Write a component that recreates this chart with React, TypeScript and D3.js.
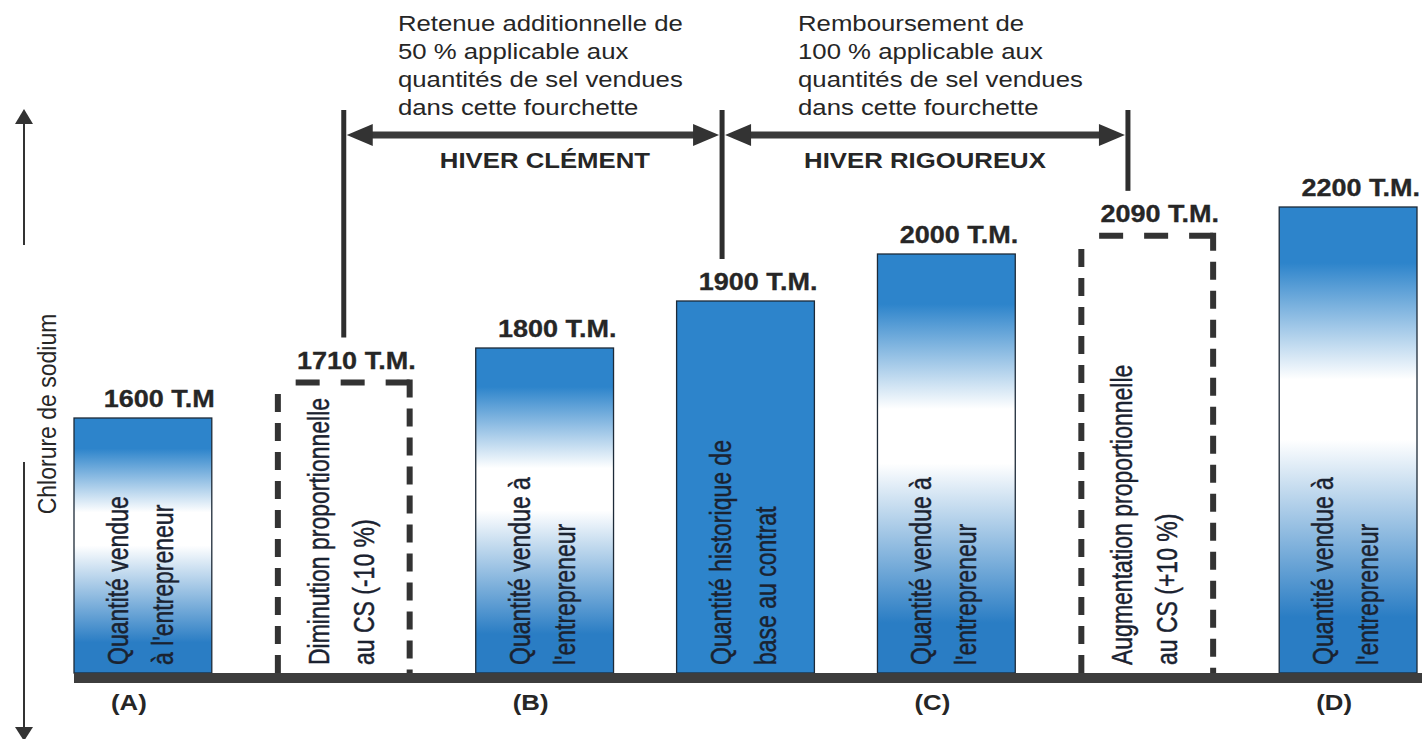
import { useEffect, useRef } from 'react';
import * as d3 from 'd3';

// one entry per column, left to right
const barKeys = ['A', 'minus', 'B', 'base', 'C', 'plus', 'D'];
const barValues = [1600, 1710, 1800, 1900, 2000, 2090, 2200];
const valueLabels = ['1600 T.M', '1710 T.M.', '1800 T.M.', '1900 T.M.', '2000 T.M.', '2090 T.M.', '2200 T.M.'];
const barKinds = ['sold', 'adjust', 'sold', 'base', 'sold', 'adjust', 'sold'];
const letterLabels = ['(A)', '', '(B)', '', '(C)', '', '(D)'];
const barCaptions = [
  ['Quantité vendue', "à l'entrepreneur"],
  ['Diminution proportionnelle', 'au CS (-10 %)'],
  ['Quantité vendue à', "l'entrepreneur"],
  ['Quantité historique de', 'base au contrat'],
  ['Quantité vendue à', "l'entrepreneur"],
  ['Augmentation proportionnelle', 'au CS (+10 %)'],
  ['Quantité vendue à', "l'entrepreneur"],
];

// the two winter ranges drawn above the columns
const rangeFrom = ['minus', 'base'];
const rangeTo = ['base', 'plus'];
const rangeTitles = ['HIVER CLÉMENT', 'HIVER RIGOUREUX'];
const rangeNotes = [
  ['Retenue additionnelle de', '50 % applicable aux', 'quantités de sel vendues', 'dans cette fourchette'],
  ['Remboursement de', '100 % applicable aux', 'quantités de sel vendues', 'dans cette fourchette'],
];

const axisTitle = 'Chlorure de sodium';

// the figure is schematic, not to scale: anchor levels, linear in between
const levelTicks = [1600, 1800, 2000, 2200];

const FONT = '"Liberation Sans", Arial, Helvetica, sans-serif';
const SX = 1.12; // the scan is a little wider than tall
const BLUE = '#2d84cb';
const INK = '#262626';

const stretch = (x: number, y: number, rot = 0, sx = SX) =>
  `translate(${x},${y}) scale(${sx},1)` + (rot ? ` rotate(${rot})` : '');

export default function App() {
  const ref = useRef<HTMLDivElement>(null);
  useEffect(() => {
    const width = 1422;
    const height = 739;
    const baseY = 673;

    const x = d3.scaleBand<string>()
      .domain(barKeys)
      .range([74, 1417])
      .paddingInner(0.314)
      .paddingOuter(0);
    const bw = x.bandwidth();

    const y = d3.scaleLinear()
      .domain(levelTicks)
      .range([418, 348, 254, 207]);

    const svg = d3.create('svg')
      .attr('width', width)
      .attr('height', height)
      .attr('viewBox', [0, 0, width, height])
      .style('display', 'block')
      .style('background', '#fff')
      .style('font-family', FONT);

    const defs = svg.append('defs');
    const grad = defs.append('linearGradient')
      .attr('id', 'fade')
      .attr('x1', 0).attr('y1', 0).attr('x2', 0).attr('y2', 1);
    [[0, BLUE], [0.12, BLUE], [0.37, '#ffffff'], [0.5, '#ffffff'], [0.88, '#2a7dc4'], [1, '#2a7dc4']]
      .forEach(([o, c]) => grad.append('stop').attr('offset', o as number).attr('stop-color', c as string));

    const data = barKeys.map((k, i) => ({
      key: k,
      value: barValues[i],
      label: valueLabels[i],
      kind: barKinds[i],
      letter: letterLabels[i],
      caption: barCaptions[i],
    }));

    // filled columns
    svg.append('g')
      .selectAll('rect')
      .data(data.filter((d) => d.kind !== 'adjust'))
      .join('rect')
      .attr('x', (d) => x(d.key)!)
      .attr('y', (d) => y(d.value))
      .attr('width', bw)
      .attr('height', (d) => baseY - y(d.value))
      .attr('fill', (d) => (d.kind === 'base' ? BLUE : 'url(#fade)'))
      .attr('stroke', '#1d2a38')
      .attr('stroke-width', 1.3);

    // dashed columns (proportional adjustment)
    const dashed = svg.append('g')
      .attr('fill', 'none')
      .attr('stroke', '#333')
      .attr('stroke-width', 6);
    data.filter((d) => d.kind === 'adjust').forEach((d) => {
      const x0 = x(d.key)! + 3;
      const x1 = x(d.key)! + bw - 3;
      const t = y(d.value) + 3;
      dashed.append('path')
        .attr('d', `M${x1},${t}H${x0}`)
        .attr('stroke-dasharray', '24 21');
      dashed.append('path')
        .attr('d', `M${x1},${t - 3}V${baseY}`)
        .attr('stroke-dasharray', '18 11');
      dashed.append('path')
        .attr('d', `M${x0},${baseY}V${t + 7}`)
        .attr('stroke-dasharray', '18 11');
    });

    // value labels above columns
    svg.append('g')
      .attr('font-weight', 'bold')
      .attr('font-size', 23.5)
      .attr('fill', INK)
      .attr('stroke', INK)
      .attr('stroke-width', 0.3)
      .selectAll('text')
      .data(data)
      .join('text')
      .attr('transform', (d) => stretch(x(d.key)! + bw + 3, y(d.value) - 11, 0, 1.15))
      .attr('text-anchor', 'end')
      .text((d) => d.label);

    // rotated captions inside columns
    const cap = svg.append('g')
      .attr('font-size', 23)
      .attr('fill', '#1a2230')
      .attr('stroke', '#1a2230')
      .attr('stroke-width', 0.35);
    data.forEach((d) => {
      const cx = x(d.key)! + bw / 2;
      d.caption.forEach((line, j) => {
        cap.append('text')
          .attr('transform', stretch(cx - 25 + j * 45, baseY - 8, -90, 1.28))
          .attr('dominant-baseline', 'central')
          .attr('text-anchor', 'start')
          .text(line);
      });
    });

    // baseline
    svg.append('rect')
      .attr('x', x(barKeys[0])!)
      .attr('y', baseY)
      .attr('width', width - x(barKeys[0])!)
      .attr('height', 10)
      .attr('fill', '#3d3d3d');

    // letter labels under columns
    svg.append('g')
      .attr('font-weight', 'bold')
      .attr('font-size', 23)
      .attr('fill', INK)
      .selectAll('text')
      .data(data.filter((d) => d.letter))
      .join('text')
      .attr('transform', (d) => stretch(x(d.key)! + bw / 2 - 14, 710))
      .attr('text-anchor', 'middle')
      .text((d) => d.letter);

    // range bounds: vertical markers, double arrows, titles, notes
    const markerAt: Record<string, number> = { minus: 0.5, base: 0.33, plus: 0.36 };
    const markerX = (k: string) => x(k)! + bw * markerAt[k];
    const valueOf = (k: string) => barValues[barKeys.indexOf(k)];
    const arrowY = 135;

    const bounds = Array.from(new Set([...rangeFrom, ...rangeTo]));
    svg.append('g')
      .attr('stroke', '#2e2e2e')
      .attr('stroke-width', 5)
      .selectAll('line')
      .data(bounds)
      .join('line')
      .attr('x1', (k) => markerX(k))
      .attr('x2', (k) => markerX(k))
      .attr('y1', 110)
      .attr('y2', (k) => y(valueOf(k)) - 42);

    const arrows = svg.append('g');
    rangeFrom.forEach((from, i) => {
      const a = markerX(from) + 3;
      const b = markerX(rangeTo[i]) - 3;
      const hl = 26;
      const hh = 11;
      arrows.append('line')
        .attr('x1', a + hl - 4).attr('x2', b - hl + 4)
        .attr('y1', arrowY).attr('y2', arrowY)
        .attr('stroke', '#3a3a3a')
        .attr('stroke-width', 7);
      arrows.append('path')
        .attr('d', `M${a},${arrowY}L${a + hl},${arrowY - hh}L${a + hl},${arrowY + hh}Z`)
        .attr('fill', '#333');
      arrows.append('path')
        .attr('d', `M${b},${arrowY}L${b - hl},${arrowY - hh}L${b - hl},${arrowY + hh}Z`)
        .attr('fill', '#333');

      const mid = (a + b) / 2;
      arrows.append('text')
        .attr('transform', stretch(mid + (i === 0 ? 12 : 0), 168))
        .attr('text-anchor', 'middle')
        .attr('font-weight', 'bold')
        .attr('font-size', 23)
        .attr('fill', INK)
        .text(rangeTitles[i]);

      const note = arrows.append('text')
        .attr('transform', stretch(mid - 135 + i * 8, 31))
        .attr('font-size', 23)
        .attr('fill', INK);
      rangeNotes[i].forEach((line, j) => {
        note.append('tspan')
          .attr('x', 0)
          .attr('y', j * 28)
          .text(line);
      });
    });

    // vertical axis: title between two arrows
    const ax = 24;
    const axis = svg.append('g').attr('fill', '#333').attr('stroke', '#333');
    axis.append('line')
      .attr('x1', ax).attr('x2', ax).attr('y1', 120).attr('y2', 245)
      .attr('stroke-width', 2);
    axis.append('path')
      .attr('d', `M${ax},109L${ax + 9},124L${ax - 9},124Z`)
      .attr('stroke', 'none');
    axis.append('line')
      .attr('x1', ax).attr('x2', ax).attr('y1', 462).attr('y2', 728)
      .attr('stroke-width', 2);
    axis.append('path')
      .attr('d', `M${ax},${height + 2}L${ax + 9},${height - 12}L${ax - 9},${height - 12}Z`)
      .attr('stroke', 'none');
    svg.append('text')
      .attr('transform', stretch(47, 414, -90))
      .attr('text-anchor', 'middle')
      .attr('dominant-baseline', 'central')
      .attr('font-size', 23)
      .attr('fill', INK)
      .text(axisTitle);

    const node = svg.node()!;
    ref.current?.append(node);
    return () => {
      node.remove();
    };
  }, []);
  return (
    <div ref={ref} style={{ position: 'absolute', left: 0, top: 0 }}>
    </div>
  );
}
